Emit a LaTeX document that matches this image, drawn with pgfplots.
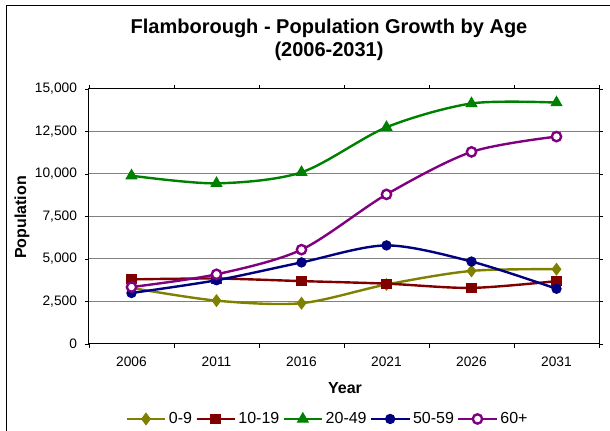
\documentclass[border=0pt]{standalone}
\usepackage{pgfplots}
\pgfplotsset{compat=1.18}
\usepackage{fontspec}
\setmainfont{Liberation Sans}
\definecolor{cOlive}{HTML}{808000}
\definecolor{cMaroon}{HTML}{800000}
\definecolor{cGreen}{HTML}{008000}
\definecolor{cNavy}{HTML}{000080}
\definecolor{cPurple}{HTML}{800080}
\begin{document}
\begin{tikzpicture}
\begin{axis}[
  at={(0,0)}, anchor=south west,
  scale only axis,
  width=382.5pt, height=191.25pt,
  xmin=-0.5, xmax=5.5,
  ymin=0, ymax=15000,
  xtick={0,1,2,3,4,5},
  xticklabels={2006,2011,2016,2021,2026,2031},
  minor xtick={-0.5,0.5,1.5,2.5,3.5,4.5,5.5},
  ytick={0,2500,5000,7500,10000,12500,15000},
  scaled y ticks=false,
  /pgf/number format/1000 sep={,},
  /pgf/number format/fixed,
  /pgf/number format/assume math mode=true,
  tick align=outside,
  major tick length=3pt,
  minor tick length=3pt,
  x tick style={draw=none},
  minor x tick style={draw=black,thin},
  y tick style={black,thin},
  tick label style={font=\fontsize{10.3}{12}\selectfont},
  yticklabel style={xshift=-2.5pt},
  xticklabel style={yshift=-3pt},
  ymajorgrids,
  grid style={draw=black!50, line width=0.75pt},
  axis line style={black, line width=0.75pt},
  xlabel={Year},
  ylabel={Population},
  label style={font=\fontsize{12}{14}\selectfont\bfseries},
  xlabel style={at={(axis description cs:0.502,-0.1725)}, anchor=center},
  ylabel style={at={(axis description cs:-0.1314,0.496)}, anchor=center},
  legend columns=5,
  legend style={at={(0.4686,-0.294)}, anchor=center, draw=none,
    font=\fontsize{12}{14}\selectfont,
    /tikz/every even column/.append style={column sep=0.5pt},
    nodes={inner xsep=2pt},
    inner sep=0pt},
  legend image code/.code={\draw[#1, mark repeat=2, mark phase=2] plot coordinates {(0pt,0pt) (14.25pt,0pt) (28.5pt,0pt)};},
  every axis plot/.append style={line width=1.8pt, smooth, tension=0.5, mark options={solid, line width=0.75pt}},
  clip=false,
]
\addplot[color=cOlive, mark=diamond*, mark size=4.3pt] coordinates {(0,3300) (1,2550) (2,2400) (3,3500) (4,4300) (5,4400)};
\addlegendentry{0-9}
\addplot[color=cMaroon, mark=square*, mark size=3.4pt] coordinates {(0,3800) (1,3850) (2,3700) (3,3550) (4,3300) (5,3700)};
\addlegendentry{10-19}
\addplot[color=cGreen, mark=triangle*, mark size=4.6pt] coordinates {(0,9900) (1,9450) (2,10100) (3,12750) (4,14150) (5,14200)};
\addlegendentry{20-49}
\addplot[color=cNavy, mark=*, mark size=3.5pt] coordinates {(0,3000) (1,3750) (2,4800) (3,5800) (4,4850) (5,3250)};
\addlegendentry{50-59}
\addplot[color=cPurple, mark=*, mark size=3.5pt, mark options={fill=white}] coordinates {(0,3350) (1,4100) (2,5550) (3,8800) (4,11300) (5,12200)};
\addlegendentry{60+}
\end{axis}
\node[anchor=base, font=\fontsize{15}{18}\selectfont\bfseries] at (180pt,233pt) {Flamborough - Population Growth by Age};
\node[anchor=base, font=\fontsize{15}{18}\selectfont\bfseries] at (180pt,215.5pt) {(2006-2031)};
\draw[black, line width=0.75pt] (-61.5pt,-70pt) -- (-61.5pt,253.5pt) -- (395pt,253.5pt);
\pgfresetboundingbox
\useasboundingbox (-66.75pt,-65.25pt) rectangle (390.75pt,258pt);
\end{tikzpicture}
\end{document}
